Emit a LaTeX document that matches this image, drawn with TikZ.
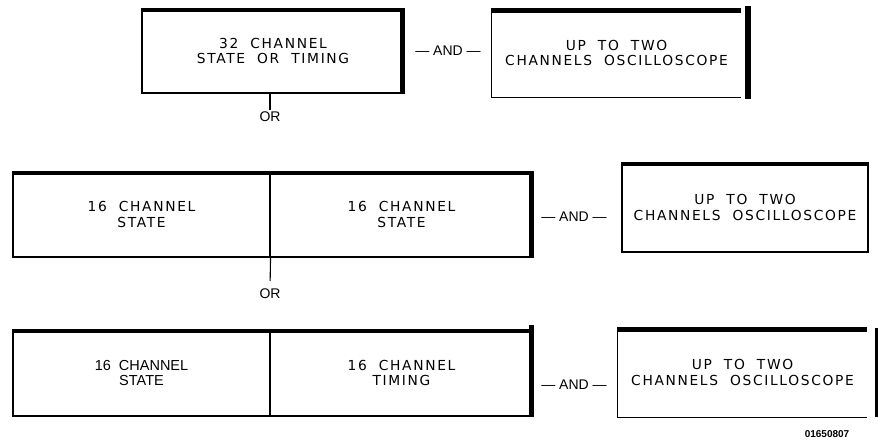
\documentclass[tikz,border=0pt]{standalone}
\usepackage{fontspec}
\setmainfont{Liberation Sans}
\newfontfamily\strokefont[LetterSpace=12]{DejaVu Sans}
\usetikzlibrary{calc}
\begin{document}
\begin{tikzpicture}[x=1pt,y=-1pt,
  box/.style={inner sep=0pt, align=center, font=\strokefont\fontsize{13.8}{15.5}\selectfont},
  thinbox/.style={box, draw, line width=1.1pt},
  heavybox/.style={box, draw, line width=2.6pt, font=\fontsize{14.5}{15.5}\selectfont},
  helv/.style={inner sep=0pt, font=\fontsize{14}{15}\selectfont},
  thin/.style={line width=1.1pt}]
\useasboundingbox (0,0) rectangle (878,441);

% ---------- Row 1 ----------
\node[thinbox, minimum width=262, minimum height=84] (A) at (273,51) {32\ \ CHANNEL\\STATE\ \ OR\ \ TIMING};
\fill (A.north west) rectangle ($(A.north east)+(0,4)$);
\fill ($(A.north east)+(-5,0)$) rectangle (A.south east);
\node[helv] (and1) at (448,51) {---\ AND\ ---};
\node[box, minimum width=249, minimum height=88] (B) at (616.5,53) {UP\ \ TO\ \ TWO\\CHANNELS\ \ OSCILLOSCOPE};
\draw[thin] (B.north east) -- (B.north west) -- (B.south west) -- (B.south east);
\fill (B.north west) rectangle ($(B.north east)+(0,4)$);
\fill (745,6) rectangle (751,99);
\node[helv] (or1) at (270,117) {OR};
\draw[thin, shorten >=2pt] ($(A.south)+(-3,0)$) -- (or1.north);

% ---------- Row 2 ----------
\node[thinbox, minimum width=257, minimum height=85] (C1) at (141.5,214.5) {16\ \ CHANNEL\\STATE};
\node[thinbox, minimum width=263, minimum height=85] (C2) at (401.5,214.5) {16\ \ CHANNEL\\STATE};
\fill (C1.north west) rectangle ($(C2.north east)+(0,4)$);
\fill ($(C2.north east)+(-5,0)$) rectangle (C2.south east);
\node[helv] (and2) at (574,217) {---\ AND\ ---};
\node[thinbox, minimum width=246, minimum height=89] (D) at (745,207.5) {UP\ \ TO\ \ TWO\\CHANNELS\ \ OSCILLOSCOPE};
\fill (D.north west) rectangle ($(D.north east)+(0,4)$);
\node[helv] (or2) at (270,294) {OR};
\draw[thin, shorten >=8pt] (C1.south east) -- (or2.north);

% ---------- Row 3 ----------
\node[heavybox, minimum width=257, minimum height=86] (E1) at (141.5,373) {16\ \ CHANNEL\\STATE};
\node[thinbox, line width=2.6pt, minimum width=263, minimum height=86] (E2) at (401.5,373) {16\ \ CHANNEL\\TIMING};
\fill (E1.north west) rectangle ($(E2.north east)+(0,4)$);
\fill ($(E2.north east)+(-5,-4)$) rectangle (E2.south east);
\node[helv] (and3) at (574,385) {---\ AND\ ---};
\node[box, minimum width=249, minimum height=89] (F) at (742.5,372.5) {UP\ \ TO\ \ TWO\\CHANNELS\ \ OSCILLOSCOPE};
\draw[thin] (F.north east) -- (F.north west) -- (F.south west) -- (F.south east);
\fill (F.north west) rectangle ($(F.north east)+(0,4)$);
\fill (875,328) rectangle (878,417);
\node[helv, font=\bfseries\fontsize{10}{11}\selectfont] (code) at (827,434) {01650807};
\end{tikzpicture}
\end{document}
